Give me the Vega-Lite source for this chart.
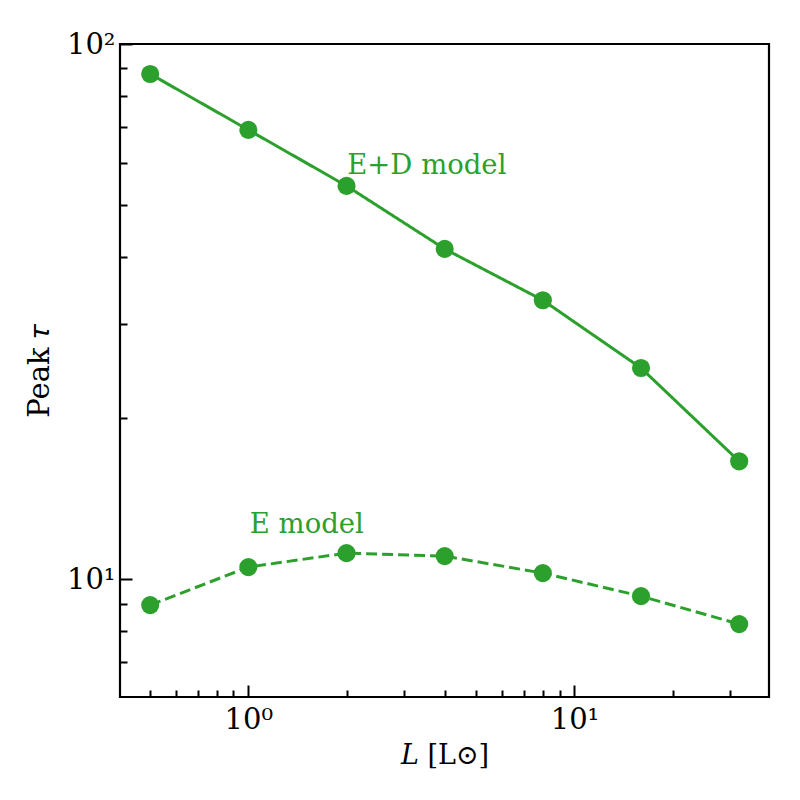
{
  "$schema": "https://vega.github.io/schema/vega-lite/v6.json",
  "width": 649,
  "height": 653,
  "autosize": "none",
  "padding": {"left": 120, "top": 44, "right": 31, "bottom": 103},
  "background": "white",
  "config": {
    "view": {"stroke": "black", "strokeWidth": 2.2},
    "font": "DejaVu Serif",
    "axis": {
      "domain": false,
      "grid": false,
      "tickColor": "black",
      "tickWidth": 2,
      "labelColor": "black",
      "titleFontWeight": "normal",
      "titleColor": "black"
    }
  },
  "datasets": {
    "series": [
      {"L": 0.5, "tau": 87.9, "model": "E+D"},
      {"L": 1, "tau": 69.1, "model": "E+D"},
      {"L": 2, "tau": 54.3, "model": "E+D"},
      {"L": 4, "tau": 41.4, "model": "E+D"},
      {"L": 8, "tau": 33.2, "model": "E+D"},
      {"L": 16, "tau": 24.8, "model": "E+D"},
      {"L": 32, "tau": 16.6, "model": "E+D"},
      {"L": 0.5, "tau": 8.94, "model": "E"},
      {"L": 1, "tau": 10.53, "model": "E"},
      {"L": 2, "tau": 11.18, "model": "E"},
      {"L": 4, "tau": 11.04, "model": "E"},
      {"L": 8, "tau": 10.26, "model": "E"},
      {"L": 16, "tau": 9.29, "model": "E"},
      {"L": 32, "tau": 8.24, "model": "E"}
    ],
    "labels": [
      {"L": 2.01, "tau": 59.2, "text": "E+D model"},
      {"L": 1.01, "tau": 12.6, "text": "E model"}
    ]
  },
  "encoding": {
    "x": {
      "field": "L",
      "type": "quantitative",
      "scale": {"type": "log", "domain": [0.404, 39.5], "nice": false},
      "axis": {
        "title": "𝐿 [L⊙]",
        "titleFont": "DejaVu Serif",
        "titleFontSize": 27,
        "titlePadding": 3,
        "values": [0.5, 0.6, 0.7, 0.8, 0.9, 1, 2, 3, 4, 5, 6, 7, 8, 9, 10, 20, 30],
        "labelExpr": "datum.value == 1 ? '10⁰' : datum.value == 10 ? '10¹' : ''",
        "labelFont": "DejaVu Serif",
        "labelFontSize": 29,
        "tickSize": {"condition": {"test": "datum.value == 1 || datum.value == 10", "value": -12}, "value": -7},
        "labelPadding": 20,
        "labelFlush": false,
        "labelOverlap": false
      }
    },
    "y": {
      "field": "tau",
      "type": "quantitative",
      "scale": {"type": "log", "domain": [6.02, 100], "nice": false},
      "axis": {
        "title": "Peak 𝜏",
        "titleFont": "DejaVu Serif",
        "titleFontSize": 29,
        "titlePadding": 12,
        "values": [7, 8, 9, 10, 20, 30, 40, 50, 60, 70, 80, 90, 100],
        "labelExpr": "datum.value == 10 ? '10¹' : datum.value == 100 ? '10²' : ''",
        "labelFont": "DejaVu Serif",
        "labelFontSize": 29,
        "tickSize": {"condition": {"test": "datum.value == 10 || datum.value == 100", "value": -12}, "value": -7},
        "labelPadding": 17,
        "labelFlush": false,
        "labelOverlap": false
      }
    }
  },
  "layer": [
    {
      "data": {"name": "series"},
      "mark": {"type": "line", "color": "#2ca02c", "strokeWidth": 3},
      "encoding": {
        "detail": {"field": "model"},
        "strokeDash": {
          "field": "model",
          "type": "nominal",
          "scale": {"domain": ["E+D", "E"], "range": [[1, 0], [11, 5]]},
          "legend": null
        }
      }
    },
    {
      "data": {"name": "series"},
      "mark": {"type": "point", "filled": true, "color": "#2ca02c", "opacity": 1, "size": 330}
    },
    {
      "data": {"name": "labels"},
      "mark": {"type": "text", "color": "#2ca02c", "align": "left", "baseline": "middle", "font": "DejaVu Serif", "fontSize": 27.5},
      "encoding": {"text": {"field": "text"}}
    }
  ]
}
